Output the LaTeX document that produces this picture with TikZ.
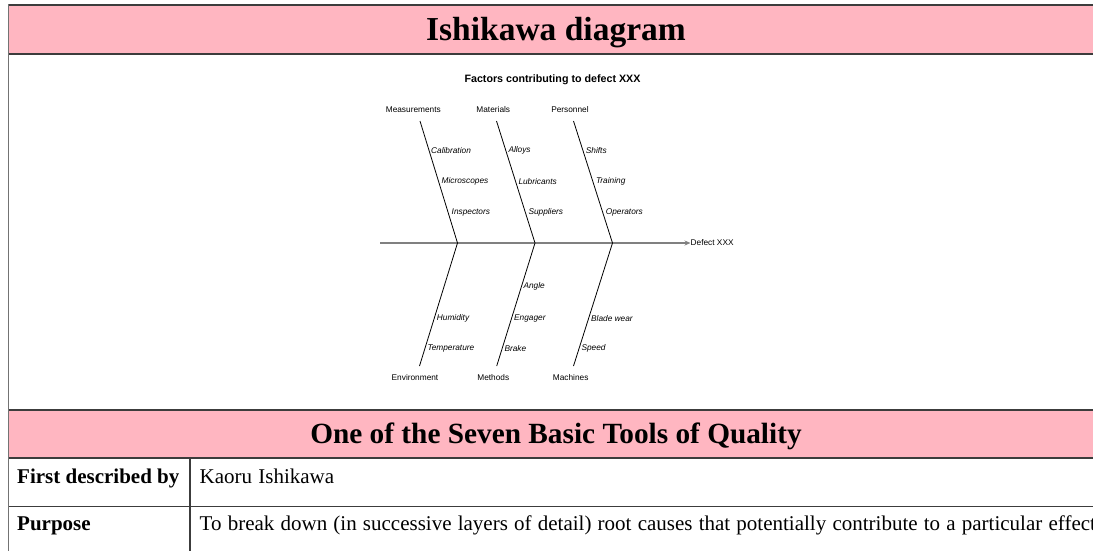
\documentclass[tikz,border=0pt]{standalone}
\usepackage{fontspec}
\setmainfont{Liberation Serif}
\newfontfamily\diagfont{Liberation Sans}
\usetikzlibrary{arrows.meta}
\definecolor{hdrpink}{HTML}{FFB6C1}
\definecolor{rulecol}{HTML}{3C3C3C}
\definecolor{spinecol}{HTML}{808080}
\newcommand{\widerspaces}{\spaceskip=6.2pt\relax}
\begin{document}
\begin{tikzpicture}[x=1pt,y=-1pt,
  rule/.style={draw=rulecol,line width=1.2pt},
  bigtitle/.style={anchor=base,inner sep=0pt,font=\bfseries\fontsize{33.5}{40}\selectfont},
  subtitle/.style={anchor=base,inner sep=0pt,font=\bfseries\fontsize{29.3}{35}\selectfont},
  rowhead/.style={anchor=base west,inner sep=0pt,font=\bfseries\fontsize{21}{25}\selectfont},
  rowtext/.style={anchor=base west,inner sep=0pt,font=\fontsize{21}{25}\selectfont},
  fishtitle/.style={inner sep=0pt,font=\diagfont\bfseries\fontsize{10.7}{13}\selectfont},
  category/.style={inner sep=0pt,font=\diagfont\fontsize{8.3}{10}\selectfont},
  cause/.style={anchor=west,inner sep=0pt,font=\diagfont\itshape\fontsize{8.3}{10}\selectfont},
  bone/.style={draw=black,line width=0.8pt},
  spine/.style={draw=spinecol,line width=1.1pt,-{Stealth[length=6pt,width=5pt,inset=2pt]}}
]
\useasboundingbox (0,0) rectangle (1093,550);
\clip (0,0) rectangle (1093,550);

% header bands
\fill[hdrpink] (8.5,5) rectangle (1110,54);
\fill[hdrpink] (8.5,410) rectangle (1110,458);

% table rules
\draw[rule] (8.5,5) -- (1110,5);
\draw[rule] (8.5,54) -- (1110,54);
\draw[rule] (8.5,410) -- (1110,410);
\draw[rule] (8.5,458) -- (1110,458);
\draw[rule] (8.5,506.7) -- (1110,506.7);
\draw[rule] (190,458) -- (190,552);
\draw[draw=gray!90!black,line width=1.4pt] (8.5,4.4) -- (8.5,552);

% headings and rows
\node[bigtitle] (title) at (556,40) {Ishikawa diagram};
\node[subtitle] (tools) at (556,443.3) {One of the Seven Basic Tools of Quality};
\node[rowhead] (firstlbl) at (17,483.3) {First described by};
\node[rowtext] (firstval) at (199.5,483.3) {\widerspaces Kaoru Ishikawa};
\node[rowhead] (purplbl) at (17,530.7) {Purpose};
\node[rowtext] (purpval) at (199.5,530.7) {\widerspaces To break down (in successive layers of detail) root causes that potentially contribute to a particular effect};

% fishbone diagram
\node[fishtitle] (ftitle) at (552.5,80) {Factors contributing to defect XXX};

\coordinate (tail) at (380,243);
\node[category,anchor=west] (effect) at (690.5,243) {Defect XXX};
\draw[spine] (tail) -- (effect.west);

\coordinate (j1) at (457.5,243);
\coordinate (j2) at (535,243);
\coordinate (j3) at (612.5,243);

\node[category] (meas) at (413.3,110) {Measurements};
\node[category] (mat) at (493.3,110) {Materials};
\node[category] (pers) at (570,110) {Personnel};
\node[category] (env) at (415,377.5) {Environment};
\node[category] (meth) at (493.3,377.5) {Methods};
\node[category] (mach) at (570.7,377.5) {Machines};

\coordinate (t1) at (420,121);
\coordinate (t2) at (496.5,121);
\coordinate (t3) at (573.5,121);
\coordinate (b1) at (419.5,366);
\coordinate (b2) at (496.7,366);
\coordinate (b3) at (573.5,366);

\draw[bone] (t1) -- (j1) -- (b1);
\draw[bone] (t2) -- (j2) -- (b2);
\draw[bone] (t3) -- (j3) -- (b3);

% causes along the upper bones
\node[cause] (calib) at (431,150.7) {Calibration};
\node[cause] (micro) at (441.5,181.7) {Microscopes};
\node[cause] (insp) at (451.5,212.7) {Inspectors};
\node[cause] (alloy) at (508.3,150.7) {Alloys};
\node[cause] (lubr) at (518.3,181.7) {Lubricants};
\node[cause] (supp) at (528.3,212.7) {Suppliers};
\node[cause] (shift) at (585.7,150.7) {Shifts};
\node[cause] (train) at (595.8,181.7) {Training};
\node[cause] (oper) at (605.7,212.7) {Operators};

% causes along the lower bones
\node[cause] (humid) at (436.7,318.3) {Humidity};
\node[cause] (temp) at (427.3,348.3) {Temperature};
\node[cause] (angle) at (523.3,286.7) {Angle};
\node[cause] (engag) at (514,318.3) {Engager};
\node[cause] (brake) at (504.3,348.3) {Brake};
\node[cause] (blade) at (591,318.3) {Blade wear};
\node[cause] (speed) at (581.3,348.3) {Speed};
\end{tikzpicture}
\end{document}
